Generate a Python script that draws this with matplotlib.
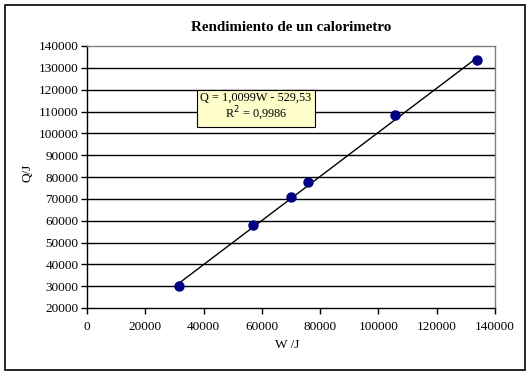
import numpy as np
import matplotlib
matplotlib.use("Agg")
import matplotlib.pyplot as plt
from matplotlib.patches import Rectangle

# data
W = [31570, 56860, 70100, 75940, 105690, 133720]
Q = [30000, 58000, 70900, 77700, 108500, 133500]
slope = 1.0099
intercept = -529.53
r2 = 0.9986

x_ticks = list(range(0, 140001, 20000))
y_ticks = list(range(20000, 140001, 10000))

plt.rcParams['font.family'] = ['Liberation Serif', 'DejaVu Serif']

fig = plt.figure(figsize=(5.31, 3.76), dpi=100)
fig.patches.append(Rectangle((5/531, 1 - 370/376), 520/531, 365/376,
                             transform=fig.transFigure, fill=False,
                             edgecolor='black', linewidth=1.2))
ax = fig.add_axes([87/531, 1 - 308/376, 408/531, 262/376])

# gridlines
for y in y_ticks[1:-1]:
    ax.axhline(y, color='black', linewidth=1.0, zorder=1)

# trendline
xs = np.array([min(W), max(W)])
ax.plot(xs, slope * xs + intercept, color='black', linewidth=1.0, zorder=2)
ax.plot(W, Q, 'o', color='#000080', markersize=6.5, zorder=3)

ax.set_xlim(0, 140000)
ax.set_ylim(20000, 140000)
ax.set_xticks(x_ticks)
ax.set_yticks(y_ticks)
ax.tick_params(labelsize=9.5, length=4, width=1, direction='out', colors='black')
ax.tick_params(axis='x', pad=5)
ax.tick_params(axis='y', pad=2)

for side in ['top', 'right']:
    ax.spines[side].set_color('#808080')
    ax.spines[side].set_linewidth(1)
for side in ['left', 'bottom']:
    ax.spines[side].set_color('black')
    ax.spines[side].set_linewidth(1)

ax.set_title('Rendimiento de un calorimetro', fontsize=10.8, fontweight='bold', pad=11)
ax.set_xlabel('W /J', fontsize=9.5)
ax.set_ylabel('Q/J', fontsize=9.5)
ax.xaxis.set_label_coords((287 - 87) / 408, (308 - 339) / 262)
ax.yaxis.set_label_coords((34 - 87) / 408, (308 - 173) / 262)

eq_text = 'Q = 1,0099W - 529,53\nR$^2$ = 0,9986'
ax.text(58000, 112000, eq_text, fontsize=8.8, ha='center', va='center',
        multialignment='center', zorder=4, linespacing=1.1,
        bbox=dict(boxstyle='square,pad=0.3', facecolor='#FFFFCC',
                  edgecolor='black', linewidth=0.8))

fig.savefig('out.png', dpi=100)
